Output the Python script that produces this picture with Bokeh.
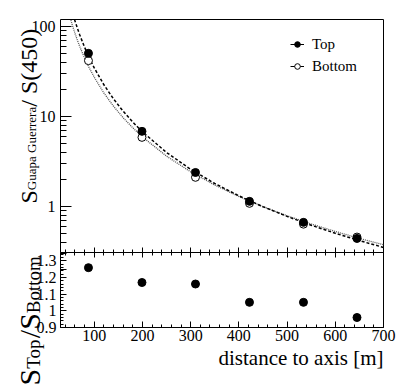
import math
from bokeh.plotting import figure
from bokeh.models import (Range1d, FixedTicker, LinearAxis, LogAxis, LinearScale, Label,
                          Legend, LegendItem, CustomJSTickFormatter)
from bokeh.embed import file_html
from bokeh.resources import INLINE

# ---------------- data ----------------
dist = [88, 199, 310, 422, 534, 645]
s_top = [50.5, 6.87, 2.40, 1.146, 0.67, 0.444]
s_top_err = [1.2, 0.12, 0.04, 0.015, 0.012, 0.04]
s_bot = [41.9, 5.89, 2.12, 1.09, 0.64, 0.46]
s_bot_err = [1.0, 0.10, 0.035, 0.015, 0.012, 0.035]
ratio = [1.259, 1.170, 1.161, 1.051, 1.051, 0.960]
ratio_err = [0.015, 0.010, 0.010, 0.012, 0.015, 0.022]

fit_top_r = [59, 65, 70, 80, 90, 100, 120, 140, 160, 180, 200, 250, 300, 350, 400, 450, 500, 550, 600, 650, 700]
fit_top_v = [120.0, 96.2, 80.8, 58.9, 44.6, 34.8, 22.6, 15.73, 11.48, 8.69, 6.78, 4.00, 2.60, 1.81, 1.32, 1.0, 0.780, 0.623, 0.507, 0.420, 0.353]
fit_bot_r = [51.5, 55, 60, 65, 70, 80, 90, 100, 120, 140, 160, 180, 200, 250, 300, 350, 400, 450, 500, 550, 600, 650, 700]
fit_bot_v = [118.0, 101.9, 84.2, 70.6, 60.0, 44.7, 34.5, 27.4, 18.32, 13.05, 9.73, 7.51, 5.95, 3.64, 2.44, 1.74, 1.30, 1.0, 0.793, 0.643, 0.531, 0.445, 0.378]

x_ticks = [100, 200, 300, 400, 500, 600, 700]
x_minor = list(range(40, 701, 20))
top_ticks = [1, 10, 100]
top_minor = [m * d for d in (0.1, 1, 10) for m in range(2, 10)]
ratio_ticks = [0.9, 1.0, 1.1, 1.2, 1.3]
ratio_minor = [round(0.9 + 0.02 * i, 2) for i in range(23)]

# ---------------- layout (pixels) ----------------
FONT = "Liberation Serif"
W, H = 405, 387
PX_L, PX_R = 60, 383
PX_T, PX_S, PX_B = 19, 252, 327
X0, X1 = 30, 700
TOP_LO, TOP_HI = 0.31, 120
R_LO, R_HI = 0.9, 1.35

xs = (X1 - X0) / (PX_R - PX_L)
x_range = Range1d(X0 - PX_L * xs, X1 + (W - PX_R) * xs)
dec = (math.log10(TOP_HI) - math.log10(TOP_LO)) / (PX_S - PX_T)
y_range = Range1d(10 ** (math.log10(TOP_LO) - (H - PX_S) * dec), 10 ** (math.log10(TOP_HI) + PX_T * dec))
rs = (R_HI - R_LO) / (PX_B - PX_S)
r_range = Range1d(R_LO - (H - PX_B) * rs, R_HI + PX_S * rs)

p = figure(width=W, height=H, x_range=x_range, y_range=y_range, y_axis_type="log",
           x_axis_location=None, y_axis_location=None,
           output_backend="svg", toolbar_location=None, min_border=0,
           extra_y_ranges={"ratio": r_range}, extra_y_scales={"ratio": LinearScale()})
p.grid.visible = False
p.outline_line_color = None

# panel frames
p.quad(left=[X0], right=[X1], bottom=[TOP_LO], top=[TOP_HI], fill_color=None, line_color="black", line_width=1)
p.quad(left=[X0], right=[X1], bottom=[R_LO], top=[R_HI], fill_color=None, line_color="black", line_width=1,
       y_range_name="ratio")

def style_ticks(ax, tin, tout, mtin, mtout):
    ax.major_tick_in, ax.major_tick_out = tin, tout
    ax.minor_tick_in, ax.minor_tick_out = mtin, mtout
    ax.major_tick_line_color = "black"
    ax.minor_tick_line_color = "black"
    ax.axis_line_color = None

ya = LogAxis(fixed_location=X0, ticker=FixedTicker(ticks=top_ticks, minor_ticks=top_minor),
             formatter=CustomJSTickFormatter(code="return tick.toString();"),
             major_label_text_font=FONT, major_label_text_font_size="16px",
             major_label_text_color="black", major_label_standoff=5)
style_ticks(ya, 11, 0, 6, 0)
p.add_layout(ya, "left")

yb = LinearAxis(y_range_name="ratio", fixed_location=X0,
                ticker=FixedTicker(ticks=ratio_ticks, minor_ticks=ratio_minor),
                formatter=CustomJSTickFormatter(code="return (Math.round(tick*10)/10).toString();"),
                major_label_text_font=FONT, major_label_text_font_size="16px",
                major_label_text_color="black", major_label_standoff=4)
style_ticks(yb, 6, 0, 3, 0)
p.add_layout(yb, "left")

xm = LinearAxis(fixed_location=TOP_LO, ticker=FixedTicker(ticks=x_ticks, minor_ticks=x_minor),
                major_label_text_color=None)
style_ticks(xm, 5, 5, 3, 3)
p.add_layout(xm, "below")

xb = LinearAxis(y_range_name="ratio", fixed_location=R_LO,
                ticker=FixedTicker(ticks=x_ticks, minor_ticks=x_minor),
                major_label_text_font=FONT, major_label_text_font_size="16px",
                major_label_text_color="black", major_label_standoff=2)
style_ticks(xb, 6, 0, 3, 0)
p.add_layout(xb, "below")

# fits
p.line(fit_bot_r, fit_bot_v, line_color="#555555", line_dash="1 1", line_width=1.3)
p.line(fit_top_r, fit_top_v, line_color="black", line_dash="3 2", line_width=1.5)

# points, top panel
e_bot = p.segment(x0=dist, y0=[v - e for v, e in zip(s_bot, s_bot_err)], x1=dist,
                  y1=[v + e for v, e in zip(s_bot, s_bot_err)], line_color="black", line_width=1)
e_top = p.segment(x0=dist, y0=[v - e for v, e in zip(s_top, s_top_err)], x1=dist,
                  y1=[v + e for v, e in zip(s_top, s_top_err)], line_color="black", line_width=1)
r_bot = p.scatter(dist, s_bot, marker="circle", size=8, fill_color="white", line_color="black", line_width=1)
r_top = p.scatter(dist, s_top, marker="circle", size=8, fill_color="black", line_color="black")

# points, ratio panel
p.segment(x0=dist, y0=[v - e for v, e in zip(ratio, ratio_err)], x1=dist,
          y1=[v + e for v, e in zip(ratio, ratio_err)], line_color="black", line_width=1,
          y_range_name="ratio")
p.scatter(dist, ratio, marker="circle", size=8, fill_color="black", line_color="black",
          y_range_name="ratio")

# legend
legend = Legend(items=[LegendItem(label="Top", renderers=[e_top, r_top]),
                       LegendItem(label="Bottom", renderers=[e_bot, r_bot])],
                location=(290, H - 77), padding=0, margin=0, spacing=0,
                glyph_width=14, glyph_height=22, label_height=22, label_standoff=8,
                label_text_font=FONT, label_text_font_size="15px", label_text_color="black",
                border_line_color=None, background_fill_alpha=0)
p.add_layout(legend, "center")

# titles
def tw(s, size):
    w = {"S": .556, "G": .722, "u": .5, "a": .444, "p": .5, " ": .25, "e": .444, "r": .333,
         "/": .278, "(": .333, ")": .333, "T": .611, "o": .5, "B": .667, "t": .278, "m": .778}
    return sum(w.get(c, .5) for c in s) * size

def vtitle(pieces, xb_, xs_, page_y0):
    y = H - page_y0
    for text, size, sub in pieces:
        p.add_layout(Label(x=xs_ if sub else xb_, y=y, x_units="screen", y_units="screen",
                           text=text, angle=math.pi / 2, text_font=FONT,
                           text_font_size=f"{size}px", text_color="black",
                           text_align="left", text_baseline="alphabetic"))
        y += tw(text, size)

vtitle([("S", 24, False), ("Guapa Guerrera", 13, True), (" / S(450)", 24, False)], 28, 31, 203)
vtitle([("S", 30, False), ("Top", 19, True), ("/", 30, False), ("S", 30, False), ("Bottom", 19, True)], 29, 33, 385)

p.add_layout(Label(x=PX_R, y=H - 357, x_units="screen", y_units="screen", text="distance to axis [m]",
                   text_font=FONT, text_font_size="21px", text_color="black",
                   text_align="right", text_baseline="middle"))

open("out.html", "w").write(file_html(p, INLINE))
